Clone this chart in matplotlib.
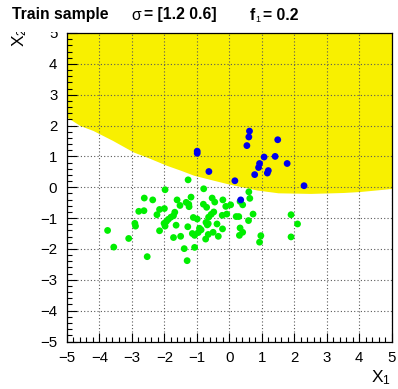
import matplotlib
matplotlib.use("Agg")
import matplotlib.pyplot as plt
from matplotlib.patches import Rectangle
from matplotlib.ticker import MultipleLocator

plt.rcParams['font.family'] = ['Liberation Sans', 'DejaVu Sans']
plt.rcParams['mathtext.fontset'] = 'custom'
plt.rcParams['mathtext.rm'] = 'Liberation Sans'
plt.rcParams['mathtext.it'] = 'Liberation Sans'

# decision boundary (yellow region lies above it)
bound_x = [-5.0, -4.6, -4.2, -3.6, -2.95, -2.55, -1.93, -1.5, -1.1, -0.5, 0.0,
           0.85, 1.5, 2.5, 3.5, 4.0, 4.5, 5.0]
bound_y = [2.27, 2.0, 1.84, 1.52, 1.14, 0.98, 0.71, 0.55, 0.39, 0.23, 0.10,
           -0.09, -0.18, -0.2, -0.17, -0.14, -0.09, -0.04]

# class 0 (green)
green_x = [-1.27, -1.98, -0.79, -2.62, -2.36, -1.18, -1.61, -1.52, -1.33, -1.25,
           -1.24, -0.80, -0.70, -0.53, -0.45, -2.79, -2.63, -2.15, -2.00, -2.23,
           -1.68, -1.72, -1.80, -1.88, -1.94, -2.01, -1.98, -1.64, -1.28, -1.11,
           -0.99, -0.72, -0.65, -0.48, -0.56, -0.64, -0.38, -0.22, -0.08, -0.20,
           -0.11, 0.04, 0.21, 0.29, 0.60, 0.63, 0.33, 0.41, 0.73, 0.59,
           1.90, 2.10, 1.90, 0.97, 0.93, 0.33, 0.41, 0.31, -0.21, -0.34,
           -0.50, -0.65, -0.73, -0.87, -0.92, -0.96, -1.14, -1.07, -1.50, -1.72,
           -2.15, -2.91, -2.89, -3.75, -3.10, -3.56, -2.53, -1.39, -1.07, -1.30,
           -0.68]
green_y = [0.24, -0.08, -0.05, -0.35, -0.41, -0.32, -0.41, -0.59, -0.49, -0.55,
           -0.63, -0.55, -0.65, -0.35, -0.48, -0.78, -0.76, -0.72, -0.69, -0.89,
           -0.81, -0.92, -0.97, -1.04, -1.11, -1.17, -1.26, -1.23, -1.28, -0.98,
           -1.03, -1.14, -1.18, -0.80, -0.88, -0.97, -1.19, -0.91, -0.87, -0.41,
           -0.62, -0.57, -0.95, -0.95, -0.15, -0.36, -0.46, -0.57, -0.87, -1.08,
           -0.89, -1.19, -1.61, -1.57, -1.78, -1.32, -1.46, -1.56, -1.35, -1.59,
           -1.46, -1.53, -1.68, -1.38, -1.33, -1.47, -1.50, -1.56, -1.59, -1.63,
           -1.41, -1.17, -1.26, -1.40, -1.66, -1.94, -2.25, -1.99, -1.95, -2.38,
           -1.22]

# class 1 (blue)
blue_x = [0.62, 0.60, 1.49, 0.54, -0.99, -0.99, 1.07, 1.41, 0.93, 0.90,
          1.78, 1.20, 1.17, 0.78, -0.63, 0.17, 2.30, 0.35]
blue_y = [1.82, 1.63, 1.54, 1.35, 1.17, 1.10, 0.98, 1.00, 0.77, 0.64,
          0.77, 0.54, 0.46, 0.41, 0.51, 0.21, 0.05, -0.41]

W, H = 398, 389
fig = plt.figure(figsize=(W / 100, H / 100), dpi=100)
ax = fig.add_axes([67 / W, 1 - 341.5 / H, (391.7 - 67) / W, (341.5 - 33) / H])

ax.fill_between(bound_x, bound_y, 5, color='#f8f000', lw=0, zorder=0.5)
ax.scatter(green_x, green_y, s=24, color='#00ee00', edgecolors='none', zorder=3)
ax.scatter(blue_x, blue_y, s=24, color='#0000ee', edgecolors='none', zorder=3)

ax.set_xlim(-5, 5)
ax.set_ylim(-5, 5)
ax.xaxis.set_major_locator(MultipleLocator(1))
ax.yaxis.set_major_locator(MultipleLocator(1))
ax.xaxis.set_minor_locator(MultipleLocator(0.2))
ax.yaxis.set_minor_locator(MultipleLocator(0.2))
ax.tick_params(which='both', direction='in', top=False, right=False, width=0.8)
ax.tick_params(which='major', length=9.5 * 0.72)
ax.tick_params(which='minor', length=4.8 * 0.72)
ax.tick_params(axis='x', which='major', pad=7, labelsize=10.8)
ax.tick_params(axis='y', which='major', pad=7, labelsize=10.8)
ax.grid(True, which='major', color='0.35', linestyle=(0, (1, 2)), linewidth=0.8)
for s in ax.spines.values():
    s.set_linewidth(0.9)

fig.text(391 / W, 1 - 387 / H, r'X$_1$', fontsize=12.5, ha='right', va='bottom')
fig.text(10 / W, 1 - 27 / H, r'X$_2$', fontsize=12.5, ha='left', va='top', rotation=90)

# title box
fig.patches.append(Rectangle((0, 1 - 31.5 / H), 1, 31.5 / H, transform=fig.transFigure,
                             facecolor='white', edgecolor='none', zorder=5))
ty = 1 - 19.5 / H
kw = dict(fontsize=11.3, va='baseline', zorder=6)
fig.text(12 / W, ty, 'Train sample', fontweight='bold', **kw)
fig.text(131 / W, ty, 'σ', **kw)
fig.text(144 / W, ty, '= [1.2 0.6]', fontweight='bold', **kw)
fig.text(250 / W, ty, 'f', fontweight='bold', **kw)
fig.text(255.5 / W, ty - 3 / H, '1', fontsize=6.5, va='baseline', zorder=6)
fig.text(263 / W, ty, '= 0.2', fontweight='bold', **kw)

fig.savefig('out.png', dpi=100)
